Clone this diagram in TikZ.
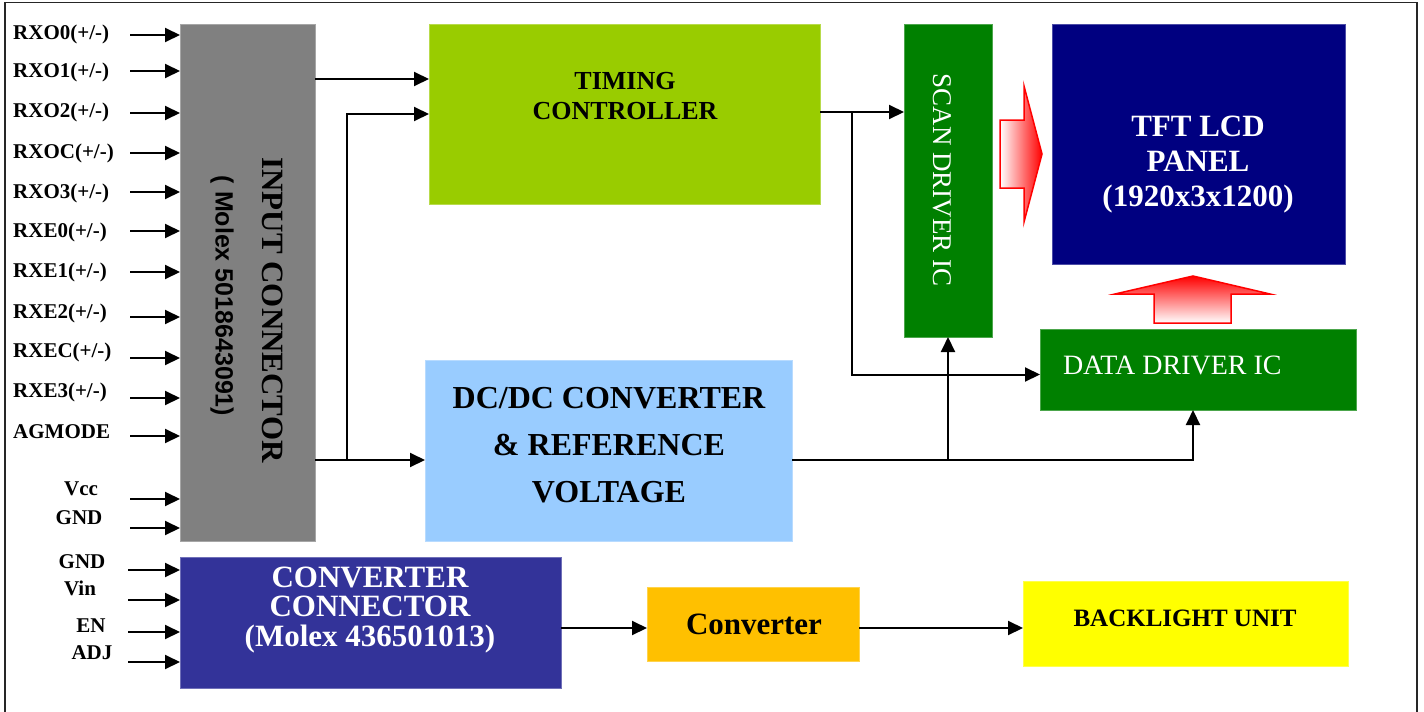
\documentclass[tikz,border=0pt]{standalone}
\usepackage{fontspec}
\setmainfont{Liberation Serif}
\newfontfamily\arialfont{Liberation Sans}
\usetikzlibrary{arrows.meta,calc}
\definecolor{cgray}{HTML}{808080}
\definecolor{ctc}{HTML}{99CC00}
\definecolor{cdc}{HTML}{99CCFF}
\definecolor{cgreen}{HTML}{008000}
\definecolor{cnavy}{HTML}{000080}
\definecolor{ccc}{HTML}{333399}
\definecolor{cconv}{HTML}{FFC000}
\definecolor{cbl}{HTML}{FFFF00}
\begin{document}
\begin{tikzpicture}[x=1pt,y=-1pt,
  box/.style={inner sep=0pt, outer sep=0pt, anchor=north west, fill=#1, draw=#1!70!white, line width=0.8pt},
  txt/.style={inner sep=0pt, outer sep=0pt, align=center},
  lab/.style={inner sep=0pt, font=\fontsize{21}{22}\selectfont\bfseries},
  arr/.style={line width=2pt, -{Triangle[length=15pt,width=14pt]}},
  ln/.style={line width=2pt},
  frame/.style={line width=1.5pt, draw=black!85},
  bigarrow/.style={draw=red, line width=1.5pt, line join=miter}
]
\useasboundingbox (0,0) rectangle (1424,712);
\draw[frame] (5,712) -- (5,2.5) -- (1417,2.5) -- (1417,712);

% boxes
\node[box=cgray, minimum width=135pt, minimum height=517pt] (inconn) at (180,24) {};
\node[box=ctc, minimum width=391pt, minimum height=180pt] (tc) at (429,24) {};
\node[box=cdc, minimum width=367pt, minimum height=181pt] (dc) at (425,360) {};
\node[box=cgreen, minimum width=88pt, minimum height=313pt] (scan) at (904,24) {};
\node[box=cnavy, minimum width=293pt, minimum height=240pt] (tft) at (1052,24) {};
\node[box=cgreen, minimum width=316pt, minimum height=81pt] (dd) at (1040,329) {};
\node[box=ccc, minimum width=381pt, minimum height=131pt] (cc) at (180,557) {};
\node[box=cconv, minimum width=212pt, minimum height=74pt] (conv) at (647,587) {};
\node[box=cbl, minimum width=325pt, minimum height=85pt] (bl) at (1023,581) {};

% box texts
\node[txt, font=\fontsize{31}{31}\selectfont\bfseries, rotate=-90] (inct) at (273,310) {INPUT CONNECTOR};
\node[txt, font=\arialfont\fontsize{25}{25}\selectfont\bfseries, rotate=-90] (molex) at (222,296) {( Molex 5018643091)};
\node[txt, font=\fontsize{26}{30}\selectfont\bfseries] (tct) at (625,96) {TIMING\\CONTROLLER};
\node[txt, font=\fontsize{32}{47}\selectfont\bfseries] (dct) at (609,445) {DC/DC CONVERTER\\\& REFERENCE\\VOLTAGE};
\node[txt, font=\fontsize{27}{27}\selectfont, text=white, rotate=-90] (scant) at (942,180) {SCAN DRIVER IC};
\node[txt, font=\fontsize{31}{35}\selectfont\bfseries, text=white] (tftt) at (1198,165) {TFT LCD\\PANEL\\(1920x3x1200)};
\node[txt, font=\fontsize{28}{28}\selectfont, text=white, anchor=west] (ddt) at (1063,365) {DATA DRIVER IC};
\node[txt, font=\fontsize{31}{29.5}\selectfont\bfseries, text=white] (cct) at (370,610) {CONVERTER\\CONNECTOR\\(Molex 436501013)};
\node[txt, font=\fontsize{31}{31}\selectfont\bfseries] (convt) at (754,624) {Converter};
\node[txt, font=\fontsize{25}{25}\selectfont\bfseries] (blt) at (1185,618) {BACKLIGHT UNIT};

% input labels and arrows
\foreach \t/\ly/\ay [count=\i] in {RXO0/34/35, RXO1/72/71, RXO2/112/113, RXOC/153/153, RXO3/193/192,
    RXE0/232/231, RXE1/272/272, RXE2/313/317, RXEC/352/358, RXE3/392/398} {
  \node[lab, anchor=west] (l\i) at (13,\ly) {\t(+/-)};
  \coordinate (s\i) at (130,\ay);
  \draw[arr] (s\i) -- (s\i -| inconn.west);
}
\node[lab, anchor=west] (lag) at (13,432) {AGMODE};
\coordinate (sag) at (130,436);
\draw[arr] (sag) -- (sag -| inconn.west);

\node[lab] (lvcc) at (81,489) {Vcc};
\coordinate (svcc) at (130,499);
\draw[arr] (svcc) -- (svcc -| inconn.west);
\node[lab] (lgnd) at (79,518) {GND};
\coordinate (sgnd) at (130,528);
\draw[arr] (sgnd) -- (sgnd -| inconn.west);

\node[lab] (lgnd2) at (82,562) {GND};
\coordinate (sgnd2) at (128,570);
\draw[arr] (sgnd2) -- (sgnd2 -| cc.west);
\node[lab] (lvin) at (80,588) {Vin};
\coordinate (svin) at (128,600);
\draw[arr] (svin) -- (svin -| cc.west);
\node[lab] (len) at (91,626) {EN};
\coordinate (sen) at (128,632);
\draw[arr] (sen) -- (sen -| cc.west);
\node[lab] (ladj) at (92,653) {ADJ};
\coordinate (sadj) at (128,662);
\draw[arr] (sadj) -- (sadj -| cc.west);

% internal connections
\draw[arr] ([yshift=35pt]tc.west -| inconn.east) -- ([yshift=35pt]tc.west);
\coordinate (j1) at (347,460);
\draw[arr] (inconn.east |- j1) -- (j1 -| dc.west);
\draw[arr] (j1) |- (tc.west);
\draw[arr] ([yshift=2pt]tc.east) -- ([yshift=2pt]tc.east -| scan.west);
\coordinate (j2) at (852,112);
\draw[arr] (j2) |- ([yshift=-5pt]dd.west);
\coordinate (j3) at (948,460);
\draw[arr] (dc.east |- j3) -| ([xshift=-5pt]dd.south);
\draw[arr] (j3) -- (j3 |- scan.south);
\draw[arr] ([yshift=-4pt]conv.west -| cc.east) -- ([yshift=-4pt]conv.west);
\draw[arr] ([yshift=-4pt]conv.east) -- ([yshift=-4pt]conv.east -| bl.west);

% big red arrows
\path[bigarrow, left color=white, right color=red]
  (1000,120) -- (1024,120) -- (1024,86) -- (1042,154) -- (1024,222) -- (1024,188) -- (1000,188) -- cycle;
\path[bigarrow, bottom color=white, top color=red]
  (1154,323) -- (1154,294) -- (1115,294) -- (1193,276) -- (1270,294) -- (1231,294) -- (1231,323) -- cycle;
\end{tikzpicture}
\end{document}
